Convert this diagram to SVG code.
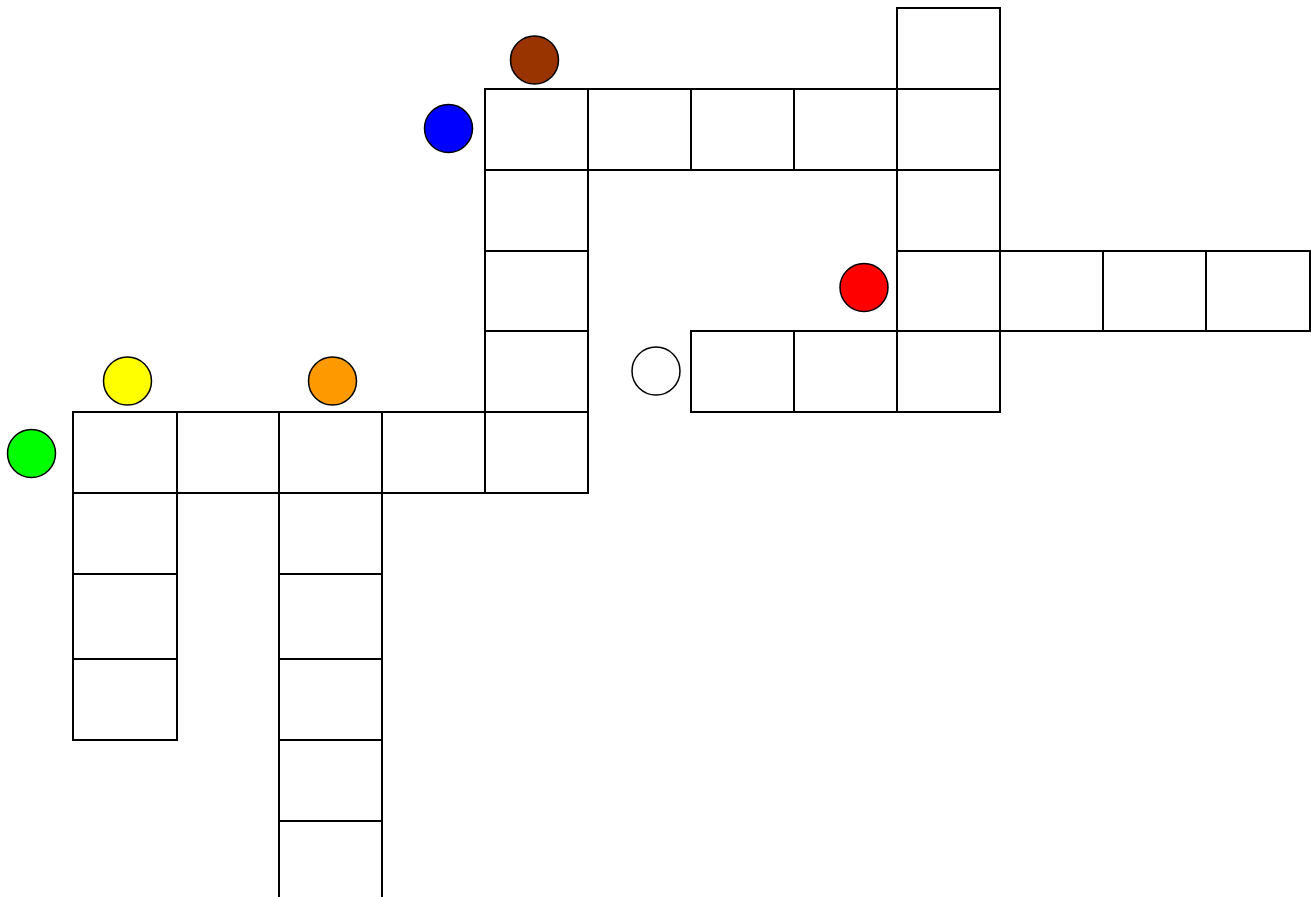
<svg xmlns="http://www.w3.org/2000/svg" width="1311" height="897" viewBox="0 0 1311 897">
<style>
.c{fill:#fff;stroke:#000;stroke-width:2}
.d{stroke:#000;stroke-width:1.5}
</style>
<rect width="1311" height="897" fill="#fff"/>
<g id="grid">
<rect class="c" x="897" y="8" width="103" height="81"/>
<rect class="c" x="485" y="89" width="103" height="81"/>
<rect class="c" x="588" y="89" width="103" height="81"/>
<rect class="c" x="691" y="89" width="103" height="81"/>
<rect class="c" x="794" y="89" width="103" height="81"/>
<rect class="c" x="897" y="89" width="103" height="81"/>
<rect class="c" x="485" y="170" width="103" height="81"/>
<rect class="c" x="485" y="251" width="103" height="80"/>
<rect class="c" x="485" y="331" width="103" height="81"/>
<rect class="c" x="897" y="170" width="103" height="81"/>
<rect class="c" x="897" y="251" width="103" height="80"/>
<rect class="c" x="1000" y="251" width="103" height="80"/>
<rect class="c" x="1103" y="251" width="103" height="80"/>
<rect class="c" x="1206" y="251" width="104" height="80"/>
<rect class="c" x="691" y="331" width="103" height="81"/>
<rect class="c" x="794" y="331" width="103" height="81"/>
<rect class="c" x="897" y="331" width="103" height="81"/>
<rect class="c" x="73" y="412" width="104" height="81"/>
<rect class="c" x="177" y="412" width="102" height="81"/>
<rect class="c" x="279" y="412" width="103" height="81"/>
<rect class="c" x="382" y="412" width="103" height="81"/>
<rect class="c" x="485" y="412" width="103" height="81"/>
<rect class="c" x="73" y="493" width="104" height="81"/>
<rect class="c" x="73" y="574" width="104" height="85"/>
<rect class="c" x="73" y="659" width="104" height="81"/>
<rect class="c" x="279" y="493" width="103" height="81"/>
<rect class="c" x="279" y="574" width="103" height="85"/>
<rect class="c" x="279" y="659" width="103" height="81"/>
<rect class="c" x="279" y="740" width="103" height="81"/>
<rect class="c" x="279" y="821" width="103" height="90"/>
</g>
<g id="markers">
<circle id="brown" class="d" cx="534.5" cy="60" r="24" fill="#993300"/>
<circle id="blue" class="d" cx="448.5" cy="128.5" r="24" fill="#0000ff"/>
<circle id="red" class="d" cx="864" cy="287.5" r="24" fill="#ff0000"/>
<circle id="white" class="d" cx="656" cy="371" r="24" fill="#ffffff"/>
<circle id="yellow" class="d" cx="127.5" cy="381" r="24" fill="#ffff00"/>
<circle id="orange" class="d" cx="332.5" cy="381" r="24" fill="#ff9900"/>
<circle id="green" class="d" cx="31.5" cy="453.5" r="24" fill="#00ff00"/>
</g>
</svg>
